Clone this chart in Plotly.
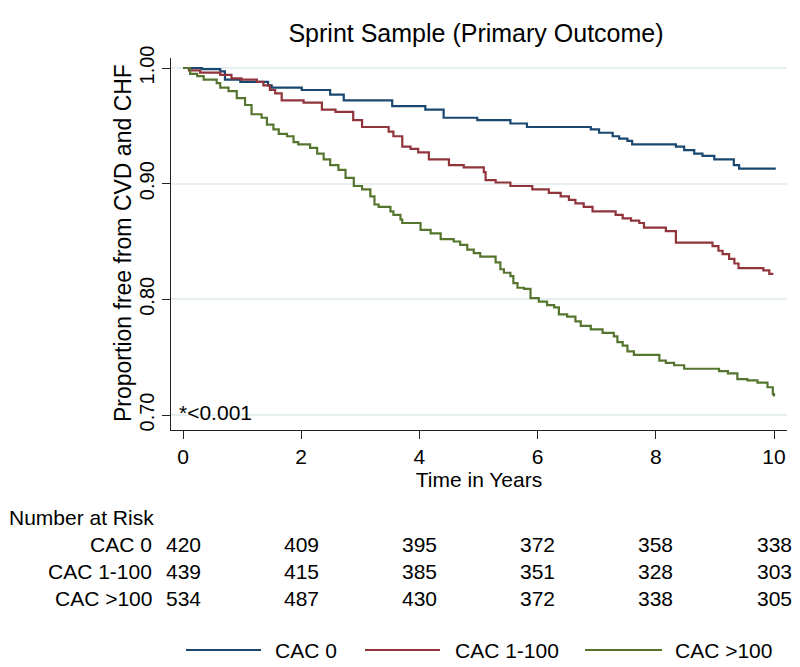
import plotly.graph_objects as go

# ---------------- data ----------------
series_names = ["CAC 0", "CAC 1-100", "CAC >100"]
series_colors = ["#1a476f", "#90353b", "#55752f"]

t_cac0 = [0, 0.32, 0.63, 0.71, 0.97, 1.44, 1.50, 2.01, 2.49, 2.72, 3.54, 4.10, 4.41, 4.98,
          5.54, 5.82, 6.90, 7.04, 7.27, 7.38, 7.52, 7.60, 8.34, 8.48, 8.65, 8.79, 8.99,
          9.32, 9.41, 10.03]
s_cac0 = [1.000, 0.999, 0.997, 0.990, 0.988, 0.985, 0.983, 0.981, 0.977, 0.972, 0.967, 0.964,
          0.957, 0.955, 0.952, 0.949, 0.947, 0.944, 0.941, 0.939, 0.937, 0.934, 0.932, 0.929,
          0.926, 0.924, 0.921, 0.916, 0.913, 0.913]

t_cac1 = [0, 0.10, 0.29, 0.63, 0.82, 0.99, 1.25, 1.36, 1.47, 1.56, 1.67, 2.04, 2.35, 2.58,
          2.88, 3.03, 3.48, 3.56, 3.71, 3.85, 3.98, 4.16, 4.50, 4.75, 5.09, 5.12, 5.29, 5.54,
          5.91, 6.19, 6.39, 6.53, 6.64, 6.78, 6.93, 7.32, 7.44, 7.58, 7.72, 7.80, 8.17, 8.34,
          8.96, 9.06, 9.13, 9.24, 9.33, 9.40, 9.82, 9.92, 9.97]
s_cac1 = [1.000, 0.998, 0.996, 0.994, 0.991, 0.990, 0.988, 0.985, 0.981, 0.978, 0.972, 0.970,
          0.964, 0.962, 0.955, 0.949, 0.945, 0.941, 0.932, 0.930, 0.927, 0.921, 0.916, 0.914,
          0.910, 0.903, 0.901, 0.898, 0.895, 0.892, 0.889, 0.886, 0.883, 0.880, 0.876, 0.873,
          0.870, 0.868, 0.866, 0.862, 0.859, 0.849, 0.846, 0.842, 0.839, 0.835, 0.831, 0.827,
          0.825, 0.822, 0.821]

t_cac2 = [0, 0.12, 0.24, 0.35, 0.57, 0.63, 0.77, 0.91, 1.05, 1.16, 1.33, 1.42, 1.53, 1.62,
          1.76, 1.87, 1.95, 2.15, 2.27, 2.38, 2.49, 2.63, 2.75, 2.89, 3.03, 3.17, 3.24, 3.31,
          3.51, 3.56, 3.68, 3.71, 4.02, 4.19, 4.36, 4.58, 4.69, 4.81, 4.92, 5.03, 5.29, 5.37,
          5.43, 5.54, 5.59, 5.66, 5.77, 5.88, 6.02, 6.16, 6.28, 6.36, 6.50, 6.64, 6.73, 6.90,
          7.10, 7.29, 7.35, 7.44, 7.52, 7.63, 8.06, 8.17, 8.31, 8.48, 9.07, 9.22, 9.38, 9.55,
          9.72, 9.89, 9.98, 10.0]
s_cac2 = [1.000, 0.995, 0.993, 0.990, 0.987, 0.983, 0.980, 0.974, 0.968, 0.960, 0.957, 0.951,
          0.947, 0.943, 0.941, 0.936, 0.934, 0.931, 0.926, 0.921, 0.916, 0.912, 0.905, 0.898,
          0.895, 0.889, 0.882, 0.880, 0.876, 0.873, 0.869, 0.866, 0.860, 0.857, 0.852, 0.850,
          0.847, 0.843, 0.840, 0.837, 0.832, 0.826, 0.823, 0.820, 0.814, 0.810, 0.809, 0.801,
          0.798, 0.795, 0.793, 0.787, 0.785, 0.781, 0.777, 0.774, 0.771, 0.768, 0.763, 0.760,
          0.755, 0.752, 0.747, 0.745, 0.743, 0.740, 0.738, 0.736, 0.731, 0.730, 0.728, 0.724,
          0.718, 0.716]

x_ticks = [0, 2, 4, 6, 8, 10]
y_ticks = [0.70, 0.80, 0.90, 1.00]
y_tick_labels = ["0.70", "0.80", "0.90", "1.00"]

risk_times = [0, 2, 4, 6, 8, 10]
risk_cac0 = [420, 409, 395, 372, 358, 338]
risk_cac1 = [439, 415, 385, 351, 328, 303]
risk_cac2 = [534, 487, 430, 372, 338, 305]

title_text = "Sprint Sample (Primary Outcome)"
x_title = "Time in Years"
y_title = "Proportion free from CVD and CHF"
p_text = "*<0.001"
risk_header = "Number at Risk"

# ---------------- layout helpers ----------------
W, H = 800, 667
PL, PR, PT, PB = 171, 787, 58, 430
FONT = "Liberation Sans, Arial, Helvetica, sans-serif"


def fx(px):
    return (px - PL) / (PR - PL)


def fy(py):
    return (PB - py) / (PB - PT)


times = [t_cac0, t_cac1, t_cac2]
survs = [s_cac0, s_cac1, s_cac2]
risks = [risk_cac0, risk_cac1, risk_cac2]

fig = go.Figure()
for name, col, t, s in zip(series_names, series_colors, times, survs):
    fig.add_trace(go.Scatter(x=t, y=s, mode="lines", name=name,
                             line=dict(color=col, width=2.2, shape="hv"),
                             showlegend=False))

annotations = []
shapes = []

# p-value
annotations.append(dict(text=p_text, x=fx(177), y=fy(412), xref="paper", yref="paper",
                        xanchor="left", yanchor="middle", showarrow=False,
                        font=dict(size=21, color="black")))

# y-axis title
annotations.append(dict(text=y_title, x=fx(123), y=fy(243), xref="paper", yref="paper",
                        xanchor="center", yanchor="middle", textangle=-90, showarrow=False,
                        font=dict(size=23, color="black")))

# number at risk table
annotations.append(dict(text=risk_header, x=fx(7), y=fy(517), xref="paper", yref="paper",
                        xanchor="left", yanchor="middle", showarrow=False,
                        font=dict(size=21, color="black")))
row_y = [544, 571, 598]
for name, ry, counts in zip(series_names, row_y, risks):
    annotations.append(dict(text=name, x=fx(154), y=fy(ry), xref="paper", yref="paper",
                            xanchor="right", yanchor="middle", showarrow=False,
                            font=dict(size=21, color="black")))
    for tt, n in zip(risk_times, counts):
        annotations.append(dict(text=str(n), x=tt, y=fy(ry), xref="x", yref="paper",
                                xanchor="center", yanchor="middle", showarrow=False,
                                font=dict(size=21, color="black")))

# legend (manual, to match the long line keys)
leg_y = 650
leg_lines = [(186, 261, 273), (365, 440, 453), (585, 662, 673)]
for name, col, (x0, x1, xt) in zip(series_names, series_colors, leg_lines):
    shapes.append(dict(type="line", xref="paper", yref="paper",
                       x0=fx(x0), x1=fx(x1), y0=fy(leg_y), y1=fy(leg_y),
                       line=dict(color=col, width=2)))
    annotations.append(dict(text=name, x=fx(xt), y=fy(leg_y), xref="paper", yref="paper",
                            xanchor="left", yanchor="middle", showarrow=False,
                            font=dict(size=21, color="black")))

fig.update_layout(
    width=W, height=H,
    margin=dict(l=PL, r=W - PR, t=PT, b=H - PB, autoexpand=False),
    paper_bgcolor="white", plot_bgcolor="white",
    font=dict(family=FONT, size=21, color="black"),
    title=dict(text=title_text, x=fx(476), xref="paper", xanchor="center",
               y=1 - 33 / H, yref="container", yanchor="middle",
               font=dict(size=25, color="black")),
    xaxis=dict(range=[(PL - 183) / 59.1, (PR - 183) / 59.1], tickvals=x_ticks,
               showgrid=False, zeroline=False, showline=True, linecolor="#222222",
               linewidth=1, ticks="outside", ticklen=8, tickcolor="#222222",
               tickfont=dict(size=21), title=dict(text=x_title, standoff=2,
                                                  font=dict(size=21)),
               automargin=False),
    yaxis=dict(range=[0.70 - 15 / 1156.7, 1.00 + 10 / 1156.7], tickvals=y_ticks,
               ticktext=y_tick_labels, tickangle=-90,
               showgrid=True, gridcolor="#e6eff1", gridwidth=2, zeroline=False,
               showline=True, linecolor="#222222", linewidth=1, ticks="outside",
               ticklen=8, tickcolor="#222222", tickfont=dict(size=20),
               automargin=False),
    shapes=shapes,
    annotations=annotations,
)

fig.write_html("out.html",
               config={"displayModeBar": False},
               post_script="document.body.style.margin='0px';"
                           "document.body.style.overflow='hidden';")
